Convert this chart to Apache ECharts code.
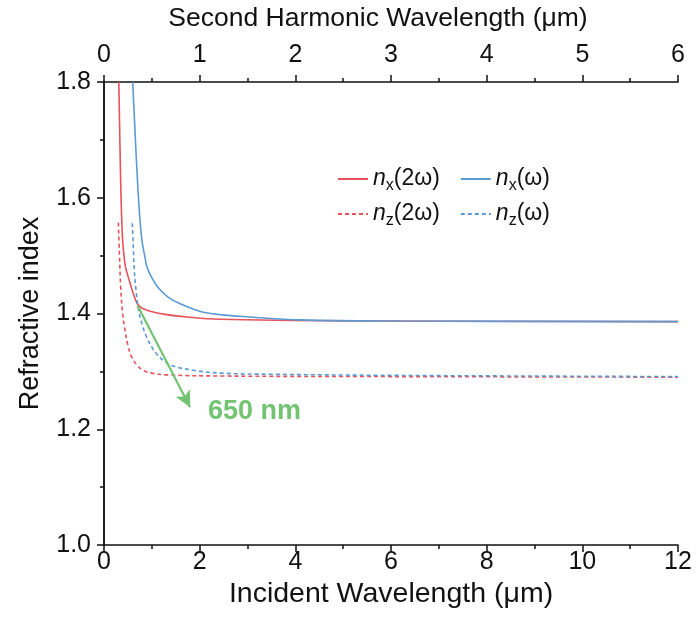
<!DOCTYPE html>
<html>
<head>
<meta charset="utf-8">
<script src="https://cdn.jsdelivr.net/npm/echarts@6/dist/echarts.min.js"></script>
<style>html,body{margin:0;padding:0;background:#fff}#c{width:696px;height:628px}</style>
</head>
<body>
<div id="c"></div>
<script>
// Data: [incident wavelength (µm), refractive index]
var nx2w = [[0.31,1.80],[0.325,1.73],[0.34,1.664],[0.36,1.59],[0.39,1.526],[0.418,1.50],[0.45,1.48],[0.5,1.465],[0.579,1.443],[0.648,1.426],[0.705,1.416],[0.8,1.409],[0.962,1.404],[1.31,1.398],[1.73,1.394],[2.43,1.390],[4,1.388],[6,1.387],[12,1.386]];
var nxw  = [[0.60,1.80],[0.64,1.73],[0.684,1.655],[0.74,1.575],[0.794,1.526],[0.85,1.50],[0.90,1.48],[1.0,1.462],[1.13,1.445],[1.345,1.428],[1.59,1.417],[2.0,1.404],[2.43,1.398],[3.05,1.394],[4.1,1.389],[6.2,1.387],[12,1.386]];
var nz2w = [[0.299,1.557],[0.324,1.50],[0.349,1.445],[0.39,1.40],[0.439,1.371],[0.5,1.345],[0.579,1.325],[0.68,1.312],[0.815,1.302],[1.0,1.297],[1.31,1.294],[2.43,1.292],[6,1.291],[12,1.290]];
var nzw  = [[0.592,1.556],[0.612,1.515],[0.634,1.474],[0.67,1.44],[0.717,1.409],[0.8,1.38],[0.893,1.359],[1.0,1.342],[1.102,1.330],[1.25,1.318],[1.415,1.310],[1.861,1.302],[2.43,1.297],[3.5,1.295],[6.19,1.293],[12,1.291]];
var seriesNames = ['nx(2ω)','nx(ω)','nz(2ω)','nz(ω)'];
var arrowStart = [0.70, 1.414];
var arrowEnd = [1.80, 1.238];
var annotation = '650 nm';
var bottomTicks = {min:0, max:12, interval:2};
var topTicks = {min:0, max:6, interval:1};
var yTicks = {min:1.0, max:1.8, interval:0.2};

var RED = '#e8525a', BLUE = '#5b9bd3', GREEN = '#72c472';
var FONT = 'Liberation Sans, Arial, sans-serif';

var legendMap = {
  'nx(2ω)': '{i|n}{s|x}{t|(2ω)}',
  'nx(ω)':  '{i|n}{s|x}{t|(ω)}',
  'nz(2ω)': '{i|n}{s|z}{t|(2ω)}',
  'nz(ω)':  '{i|n}{s|z}{t|(ω)}'
};
var legendText = {
  fontFamily: FONT, color:'#111',
  rich: {
    i: {fontSize:23, fontStyle:'italic', fontFamily:FONT, color:'#111', lineHeight:30, verticalAlign:'middle'},
    s: {fontSize:16, fontFamily:FONT, color:'#111', lineHeight:30, padding:[14,0,0,0], verticalAlign:'middle'},
    t: {fontSize:23, fontFamily:FONT, color:'#111', lineHeight:30, verticalAlign:'middle'}
  }
};
function mkLegend(names, top) {
  return {
    data: names, left: 332, top: top, orient:'horizontal', itemGap: 20,
    itemWidth: 30, itemHeight: 14,
    itemStyle: {opacity: 0},
    formatter: function(n){ return legendMap[n]; },
    textStyle: legendText
  };
}

var chart = echarts.init(document.getElementById('c'), null, {renderer:'canvas'});
var axisLabel = {fontSize:25, color:'#111', fontFamily:FONT};
var axisLine = {show:true, lineStyle:{color:'#111', width:1.5}};
var tick = {show:true, length:7, lineStyle:{color:'#111',width:1.5}};
var minor = {show:true, splitNumber:2, length:4, lineStyle:{color:'#111',width:1.5}};

function mkSeries(name, data, color, dashed) {
  return {
    name: name, type:'line', data: data, xAxisIndex:0, yAxisIndex:0,
    showSymbol:false, symbol:'none', smooth:0.4, clip:true,
    lineStyle:{color:color, width:1.6, type: dashed ? [4,3] : 'solid'},
    itemStyle:{color:color}
  };
}
var s0 = mkSeries(seriesNames[0], nx2w, RED, false);
s0.markLine = {
  silent:true, symbol:['none','arrow'], symbolSize:[12,16],
  lineStyle:{color:GREEN, width:2.2, type:'solid'},
  label:{show:false},
  data:[[{coord:arrowStart},{coord:arrowEnd}]]
};

chart.setOption({
  animation:false,
  backgroundColor:'#fff',
  grid:{left:104, right:18, top:81, bottom:83, containLabel:false},
  legend:[mkLegend([seriesNames[0],seriesNames[1]],159), mkLegend([seriesNames[2],seriesNames[3]],194)],
  xAxis:[
    {type:'value', position:'bottom', min:bottomTicks.min, max:bottomTicks.max, interval:bottomTicks.interval,
     name:'Incident Wavelength (μm)', nameLocation:'middle', nameGap:22,
     nameTextStyle:{fontSize:28.5, color:'#111', fontFamily:FONT},
     axisLine:axisLine, axisTick:tick, minorTick:minor,
     axisLabel:Object.assign({margin:5}, axisLabel), splitLine:{show:false}},
    {type:'value', position:'top', min:topTicks.min, max:topTicks.max, interval:topTicks.interval,
     name:'Second Harmonic Wavelength (μm)', nameLocation:'middle', nameGap:50,
     nameTextStyle:{fontSize:26.5, color:'#111', fontFamily:FONT, padding:[0,26,0,0]},
     axisLine:axisLine, axisTick:tick, minorTick:minor,
     axisLabel:Object.assign({margin:14}, axisLabel), splitLine:{show:false}},
    ],
  yAxis:[
    {type:'value', position:'left', min:yTicks.min, max:yTicks.max, interval:yTicks.interval,
     name:'Refractive index', nameLocation:'middle', nameGap:60,
     nameTextStyle:{fontSize:27, color:'#111', fontFamily:FONT},
     axisLine:axisLine, axisTick:tick, minorTick:minor,
     axisLabel:Object.assign({margin:13, formatter:function(v){return v.toFixed(1);}}, axisLabel), splitLine:{show:false}},
    {type:'value', position:'right', min:yTicks.min, max:yTicks.max, interval:yTicks.interval,
     axisLine:axisLine, axisTick:{show:false}, axisLabel:{show:false}, splitLine:{show:false}}
  ],
  series:[
    s0,
    mkSeries(seriesNames[1], nxw, BLUE, false),
    mkSeries(seriesNames[2], nz2w, RED, true),
    mkSeries(seriesNames[3], nzw, BLUE, true)
  ],
  graphic:[{type:'text', left:208, top:398, style:{text:annotation, fill:GREEN, font:'bold 27px '+FONT}}]
});
</script>
</body>
</html>
